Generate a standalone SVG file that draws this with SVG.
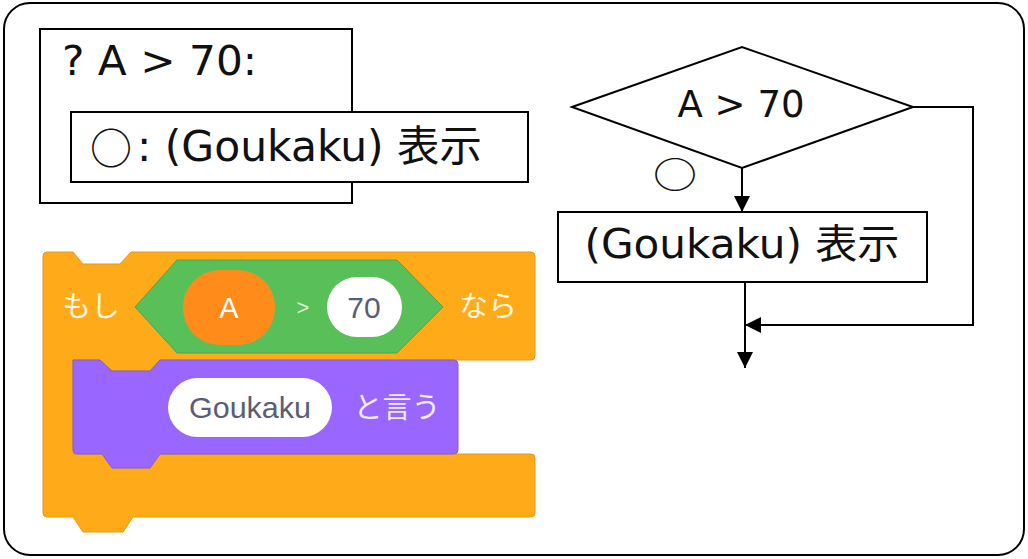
<svg xmlns="http://www.w3.org/2000/svg" width="1028" height="559" viewBox="0 0 1028 559">
<defs>
<style>
.ln{fill:none;stroke:#000;stroke-width:2}
.bx{fill:#fff;stroke:#000;stroke-width:2}
.t{font-family:"DejaVu Sans","Noto Sans CJK JP",sans-serif;fill:#111}
.c{font-family:"Noto Sans CJK JP",sans-serif;fill:#111}
.s{font-family:"Liberation Sans","Noto Sans CJK JP",sans-serif}
</style>
<marker id="ah" viewBox="0 0 10 10" refX="10" refY="5" markerWidth="16" markerHeight="16" markerUnits="userSpaceOnUse" orient="auto">
<path d="M0,0 L10,5 L0,10 z" fill="#000"/>
</marker>
</defs>
<rect width="1028" height="559" fill="#fff"/>
<rect x="4" y="3" width="1020" height="552" rx="26" class="ln"/>

<g id="code">
<rect x="40" y="29" width="312" height="174" class="bx"/>
<text x="62" y="75" font-size="41" class="t" textLength="195" lengthAdjust="spacingAndGlyphs">? A &gt; 70:</text>
<g id="code-inner">
<rect x="71" y="112" width="457" height="70" class="bx"/>
<text x="137" y="161" font-size="42" class="t"><tspan x="111" y="164" font-size="42" class="c" text-anchor="middle">○</tspan><tspan x="137" y="161" textLength="345" lengthAdjust="spacingAndGlyphs">: (Goukaku) 表示</tspan></text>
</g>
</g>

<g id="decision">
<polygon points="572,107 742,47 913,107 742,168" class="bx"/>
<text x="741" y="117" font-size="37" class="t" text-anchor="middle" textLength="127" lengthAdjust="spacingAndGlyphs">A &gt; 70</text>
</g>
<g id="yes-label">
<text x="0" y="17.6" font-size="44" class="c" text-anchor="middle" transform="translate(675,174) scale(1,0.8)">○</text>
</g>
<g id="process">
<rect x="558" y="212" width="369" height="70" class="bx"/>
<text x="742" y="258" font-size="40" class="t" text-anchor="middle" textLength="315" lengthAdjust="spacingAndGlyphs">(Goukaku) 表示</text>
</g>

<g id="connectors">
<line x1="742" y1="168" x2="742" y2="212" class="ln" stroke-width="1.5" marker-end="url(#ah)"/>
<line x1="745" y1="282" x2="745" y2="368" class="ln" stroke-width="1.5" marker-end="url(#ah)"/>
<polyline points="913,107 973,107 973,325 745,325" class="ln" stroke-width="1.5" marker-end="url(#ah)"/>
</g>

<g id="scratch">
<g id="if-block">
<path d="M47,252 H73 L83,264 H120 L131,252 H531 Q535,252 535,256 V356 Q535,360 531,360 H160 L150,371 H112 L100,360 H73 V454 H531 Q535,454 535,458 V513 Q535,517 531,517 H133 L123,532 H83 L73,517 H47 Q43,517 43,513 V256 Q43,252 47,252 Z" fill="#FFAB19" stroke="#E8961A" stroke-width="1"/>
<text x="91" y="317" font-size="29" class="s" fill="#FFF6E0" text-anchor="middle">もし</text>
<text x="488" y="317" font-size="29" class="s" fill="#FFF6E0" text-anchor="middle">なら</text>
<g id="condition">
<polygon points="135,307 177,260 397,260 443,307 397,353 177,353" fill="#59C059" stroke="#4CA64C" stroke-width="1"/>
<rect x="183" y="270" width="92" height="75" rx="37" fill="#FF8C1A"/>
<text x="229" y="318" font-size="29" class="s" fill="#fff" text-anchor="middle">A</text>
<text x="303" y="315" font-size="22" class="s" fill="#D8F0D8" text-anchor="middle">&gt;</text>
<rect x="327" y="277" width="75" height="60" rx="30" fill="#fff"/>
<text x="364" y="318" font-size="30" class="s" fill="#575E75" text-anchor="middle">70</text>
</g>
</g>
<g id="say-block">
<path d="M73,360 H100 L112,371 H150 L160,360 H454 Q458,360 458,364 V450 Q458,454 454,454 H160 L150,468 H112 L102,454 H77 Q73,454 73,450 Z" fill="#9966FF" stroke="#855CD6" stroke-width="1"/>
<rect x="168" y="378" width="164" height="59" rx="29.5" fill="#fff"/>
<text x="250" y="418" font-size="29" class="s" fill="#575E75" text-anchor="middle" textLength="122" lengthAdjust="spacingAndGlyphs">Goukaku</text>
<text x="397" y="418" font-size="29" class="s" fill="#F2ECFF" text-anchor="middle">と言う</text>
</g>
</g>
</svg>
